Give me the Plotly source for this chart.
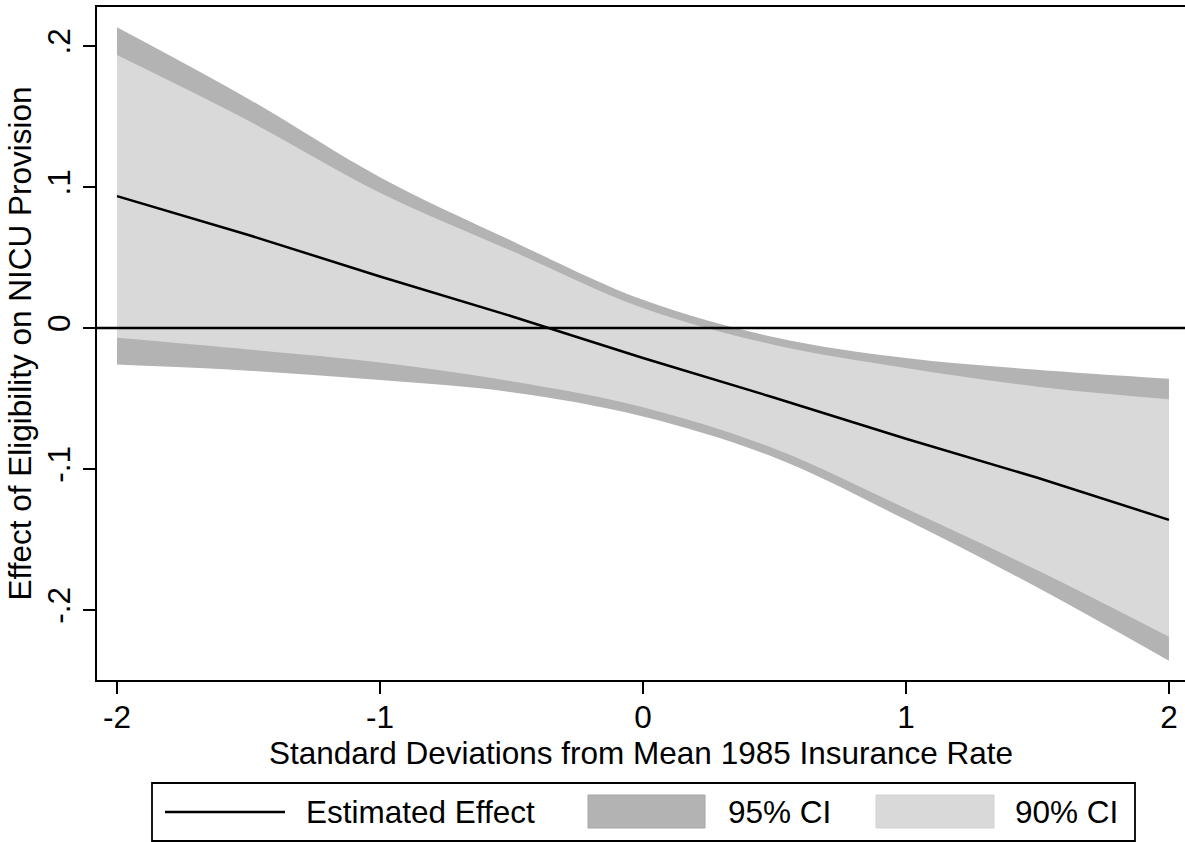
import plotly.graph_objects as go

# ---- data ----
x_sd = [-2, -1.5, -1, -0.5, 0, 0.5, 1, 1.5, 2]
est = [0.0936, 0.0660, 0.0366, 0.0084, -0.0212, -0.0494, -0.0785, -0.1062, -0.1360]
hi95 = [0.2133, 0.1625, 0.1070, 0.0620, 0.0200, -0.0065, -0.0213, -0.0296, -0.0360]
lo95 = [-0.0258, -0.0302, -0.0369, -0.0455, -0.0627, -0.0918, -0.1360, -0.1840, -0.2360]
hi90 = [0.1936, 0.1470, 0.0960, 0.0548, 0.0142, -0.0120, -0.0283, -0.0416, -0.0505]
lo90 = [-0.0069, -0.0152, -0.0245, -0.0378, -0.0562, -0.0856, -0.1280, -0.1718, -0.2190]

x_ticks = [-2, -1, 0, 1, 2]
x_ticktext = ["-2", "-1", "0", "1", "2"]
y_ticks = [-0.2, -0.1, 0, 0.1, 0.2]
y_ticktext = ["-.2", "-.1", "0", ".1", ".2"]

legend_labels = ["Estimated Effect", "95% CI", "90% CI"]

C95 = "#b3b3b3"
C90 = "#d9d9d9"
FONT = "Liberation Sans, Arial, Helvetica, sans-serif"
FS = 31.5

fig = go.Figure()
fig.add_trace(go.Scatter(x=x_sd, y=lo95, mode="lines", line=dict(width=0, shape="spline", color=C95),
                         showlegend=False, hoverinfo="skip"))
fig.add_trace(go.Scatter(x=x_sd, y=hi95, mode="lines", line=dict(width=0, shape="spline", color=C95),
                         fill="tonexty", fillcolor=C95, name=legend_labels[1], showlegend=False))
fig.add_trace(go.Scatter(x=x_sd, y=lo90, mode="lines", line=dict(width=0, shape="spline", color=C90),
                         showlegend=False, hoverinfo="skip"))
fig.add_trace(go.Scatter(x=x_sd, y=hi90, mode="lines", line=dict(width=0, shape="spline", color=C90),
                         fill="tonexty", fillcolor=C90, name=legend_labels[2], showlegend=False))
fig.add_trace(go.Scatter(x=x_sd, y=est, mode="lines", line=dict(width=2.5, color="black"),
                         name=legend_labels[0], showlegend=False))

# zero reference line across the full plot width
fig.add_shape(type="line", xref="x domain", yref="y", x0=0, x1=1, y0=0, y1=0,
              line=dict(color="black", width=2.4), layer="above")

# ---- manual legend (Stata style) ----
L, W, B, H = 97, 1088, 680, 673  # plot area in px (left, width, bottom, height)
def px(xp):
    return (xp - L) / W
def py(yp):
    return (B - yp) / H

fig.add_shape(type="rect", xref="paper", yref="paper", x0=px(152), x1=px(1135), y0=py(783), y1=py(841),
              line=dict(color="black", width=1.8), fillcolor="white")
fig.add_shape(type="line", xref="paper", yref="paper", x0=px(165), x1=px(285), y0=py(812), y1=py(812),
              line=dict(color="black", width=2.4))
fig.add_shape(type="rect", xref="paper", yref="paper", x0=px(588), x1=px(705), y0=py(795), y1=py(828),
              line=dict(color="#a6a6a6", width=1), fillcolor=C95)
fig.add_shape(type="rect", xref="paper", yref="paper", x0=px(876), x1=px(994), y0=py(795), y1=py(828),
              line=dict(color="#d2d2d2", width=1), fillcolor=C90)
for xp, txt in [(304, legend_labels[0]), (726, legend_labels[1]), (1013, legend_labels[2])]:
    fig.add_annotation(xref="paper", yref="paper", x=px(xp), y=py(812), text=txt, showarrow=False,
                       xanchor="left", yanchor="middle", font=dict(family=FONT, size=FS, color="black"))

fig.update_layout(
    width=1185, height=842,
    margin=dict(l=97, r=0, t=7, b=162, autoexpand=False),
    paper_bgcolor="white", plot_bgcolor="white",
    font=dict(family=FONT, size=FS, color="black"),
    showlegend=False,
)
fig.update_xaxes(
    range=[-2.076, 2.061], tickvals=x_ticks, ticktext=x_ticktext,
    showgrid=False, zeroline=False, showline=True, linecolor="black", linewidth=2, mirror=True,
    ticks="outside", ticklen=12, tickwidth=2, tickcolor="black", ticklabelstandoff=-4,
    tickfont=dict(family=FONT, size=FS), automargin=False,
    title=dict(text="Standard Deviations from Mean 1985 Insurance Rate", font=dict(family=FONT, size=FS), standoff=0),
)
fig.update_yaxes(
    range=[-0.2496, 0.2277], tickvals=y_ticks, ticktext=y_ticktext, tickangle=-90,
    showgrid=False, zeroline=False, showline=True, linecolor="black", linewidth=2, mirror=False,
    ticks="outside", ticklen=12, tickwidth=2, tickcolor="black",
    tickfont=dict(family=FONT, size=FS), automargin=False,
    title=dict(text="Effect of Eligibility on NICU Provision", font=dict(family=FONT, size=FS), standoff=0),
)

fig.write_html("out.html", config={"displayModeBar": False},
               post_script="document.body.style.margin='0';document.body.style.padding='0';")
